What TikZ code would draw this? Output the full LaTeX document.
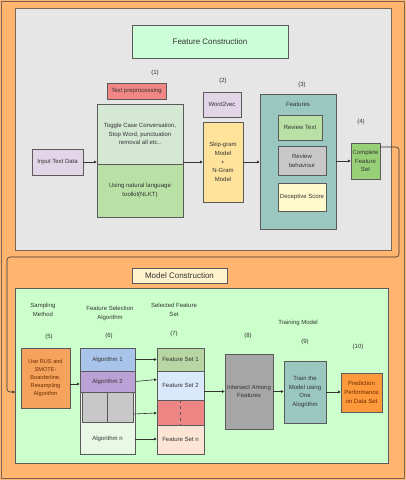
\documentclass[tikz,border=0pt]{standalone}
\usepackage{fontspec}
\setmainfont{Liberation Sans}
\usetikzlibrary{arrows.meta,calc}
\definecolor{bgor}{HTML}{FFB570}
\definecolor{bordc}{HTML}{5A5A5A}
\definecolor{contb}{HTML}{7A6654}
\definecolor{txtc}{HTML}{333333}
\definecolor{linec}{HTML}{333333}
\definecolor{grayc}{HTML}{E6E6E6}
\definecolor{mint}{HTML}{CCFFD8}
\definecolor{lgreen}{HTML}{CCFFCC}
\definecolor{redp}{HTML}{F08784}
\definecolor{gtop}{HTML}{D5E8D4}
\definecolor{gbot}{HTML}{B9E0A5}
\definecolor{lilac}{HTML}{E1D5E7}
\definecolor{yelo}{HTML}{FFE39B}
\definecolor{teal}{HTML}{9AC7BF}
\definecolor{grey}{HTML}{C8C8C8}
\definecolor{lyel}{HTML}{FFF9CC}
\definecolor{cgreen}{HTML}{97D077}
\definecolor{ctitle}{HTML}{FFF2CC}
\definecolor{rusor}{HTML}{F5A25C}
\definecolor{predor}{HTML}{FF9A3C}
\definecolor{maroon}{HTML}{6B2A00}
\definecolor{blu}{HTML}{A9C4EB}
\definecolor{purp}{HTML}{BBA2D6}
\definecolor{algn}{HTML}{E8F8E4}
\definecolor{fsa}{HTML}{B7D6A3}
\definecolor{fsb}{HTML}{DAE8FC}
\definecolor{fsr}{HTML}{EE8585}
\definecolor{fsn}{HTML}{FDE5D5}
\definecolor{inter}{HTML}{A6A6A6}
\begin{document}
\begin{tikzpicture}[x=1pt,y=-1pt,
  box/.style={draw=bordc, line width=0.6pt, inner sep=1pt, align=center,
    font=\fontsize{6}{8.8}\selectfont, text=txtc},
  sz/.style 2 args={minimum width=#1pt, minimum height=#2pt},
  lbl/.style={align=center, font=\fontsize{6}{9}\selectfont, text=txtc, inner sep=0pt},
  ttl/.style={draw=bordc, line width=0.6pt, font=\fontsize{8}{10}\selectfont, text=txtc},
  arr/.style={draw=linec, line width=0.6pt, -{Triangle[length=2.6pt,width=2.6pt]}}]
\useasboundingbox (0,0) rectangle (406,480);
\fill[bgor] (0,0) rectangle (406,480);
\draw[contb, line width=0.6pt] (1.5,1.5) rectangle (404.5,478.5);

% ---------- Feature construction ----------
\node[draw=contb, fill=grayc, line width=0.8pt, sz={376}{242}] (gc) at (203,129) {};
\node[ttl, fill=mint, sz={156}{33}] (fct) at (210,41.5) {Feature Construction};

\node[lbl] (l1) at (155,73) {(1)};
\node[box, fill=redp, sz={59}{16}] (tp) at (136.5,91) {Text preprocessing};
\node[box, fill=gtop, sz={86}{60}] (bt) at (140,134) {Toggle Case Conversation,\\Stop Word, punctuation\\removal all etc..};
\node[box, fill=gbot, sz={86}{53}] (bb) at (140,190.5) {Using natural language\\toolkit(NLKT)};
\node[box, fill=lilac, sz={51}{26}] (inp) at (57.5,162) {Input Text Data};

\node[lbl] (l2) at (223,81) {(2)};
\node[box, fill=lilac, sz={38}{25}] (w2v) at (222,104.5) {Word2vec};
\node[box, fill=yelo, sz={40}{80}] (skip) at (223,162) {Skip-gram\\Model\\+\\N-Gram\\Model};

\node[lbl] (l3) at (302,85) {(3)};
\node[box, fill=teal, sz={76}{135}] (feat) at (298,161.5) {};
\node[lbl] (featl) at (298,104) {Features};
\node[box, fill=gbot, sz={44}{25}] (rt) at (300,127.5) {Review Text};
\node[box, fill=grey, sz={48}{29}] (rb) at (302,160.5) {Review\\behaviour};
\node[box, fill=lyel, sz={48}{28}] (ds) at (302,197) {Deceptive Score};

\node[lbl] (l4) at (361,122) {(4)};
\node[box, fill=cgreen, sz={29}{36}, inner sep=0pt] (cfs) at (365.5,161) {Complete\\Feature\\Set};

\draw[arr] (inp.east) -- (inp.east -| bt.west);
\draw[arr] (skip.west -| bt.east) -- (skip.west);
\draw[arr] (skip.east) -- (skip.east -| feat.west);
\draw[arr] (feat.east |- cfs.west) -- (cfs.west);

% connector between the two parts
\coordinate (c0) at (380,147);
\coordinate (c1) at (399,147);
\coordinate (c2) at (399,257);
\coordinate (c3) at (7,257);
\coordinate (c4) at (7,392);
\coordinate (c5) at (15,392);
\draw[arr, rounded corners=3pt] (c0) -- (c1) -- (c2) -- (c3) -- (c4) -- (c5);

% ---------- Model construction ----------
\node[ttl, fill=ctitle, sz={95}{15}] (mct) at (179.5,275.5) {Model Construction};
\node[draw=bordc, fill=lgreen, line width=0.8pt, sz={373}{175}] (mc) at (201.5,375.5) {};

\node[lbl] (sm) at (43,310) {Sampling\\Method};
\node[lbl] (l5) at (49,337) {(5)};
\node[lbl] (fsa) at (110,313) {Feature Selection\\Algorithm};
\node[lbl] (l6) at (109,336) {(6)};
\node[lbl] (sfs) at (174,310) {Selected Feature\\Set};
\node[lbl] (l7) at (174,334) {(7)};
\node[lbl] (l8) at (248,336) {(8)};
\node[lbl] (tm) at (298,323) {Training Model};
\node[lbl] (l9) at (305,342) {(9)};
\node[lbl] (l10) at (358,347) {(10)};

\node[box, fill=rusor, sz={49}{60}, text=maroon, font=\fontsize{5.6}{8}\selectfont] (rus) at (45.5,378) {Use RUS and\\SMOTE-\\Boarderline,\\Resampling\\Algorithm};

\node[box, fill=algn, sz={55}{62}] (algn) at (107.5,423) {};
\node[lbl] (algnt) at (107.5,439) {Algorithm n};
\node[box, fill=blu, sz={55}{23}] (alg1) at (107.5,359.5) {Algorithm 1};
\node[box, fill=purp, sz={55}{21}] (alg2) at (107.5,381.5) {Algorithm 2};
\node[box, fill=grey, sz={51}{30}] (algg) at (107.5,407) {};
\draw[bordc, line width=0.4pt] (algg.north) -- (algg.south);

\node[box, fill=fsa, sz={47}{23}] (fs1) at (180.5,359.5) {Feature Set 1};
\node[box, fill=fsb, sz={47}{29}] (fs2) at (180.5,385.5) {Feature Set 2};
\node[box, fill=fsr, sz={47}{25}] (fsr) at (180.5,412.5) {};
\draw[bordc, line width=0.4pt, dashed] (fsr.north) -- (fsr.south);
\node[box, fill=fsn, sz={47}{29}] (fsn) at (180.5,439.5) {Feature Set n};

\node[box, fill=inter, sz={48}{75}] (int) at (249,391.5) {Intersect Among\\Features};
\node[box, fill=teal, sz={42}{62}] (tr) at (305,392) {Train the\\Model using\\One\\Alogrithm};
\node[box, fill=predor, sz={41}{39}, text=maroon, inner sep=0pt] (pred) at (361.5,392.5) {Prediction\\Performance\\on Data Set};

\draw[arr] ([yshift=-6pt]rus.east) -- ([yshift=-6pt]rus.east -| alg2.west);
\draw[arr] (alg1.east) -- (alg1.east -| fs1.west);
\draw[arr] (alg2.east) -- ([yshift=2pt]alg2.east -| fs2.west);
\draw[arr] ([yshift=-7pt]algg.east) -- ([yshift=-6pt]algg.east -| fsr.west);
\draw[arr] (algnt -| algn.east) -- (algnt -| fsn.west);
\draw[arr] (fs2.east |- int.west) -- (int.west);
\draw[arr] (int.east) -- (int.east -| tr.west);
\draw[arr] (tr.east) -- (tr.east -| pred.west);
\end{tikzpicture}
\end{document}
